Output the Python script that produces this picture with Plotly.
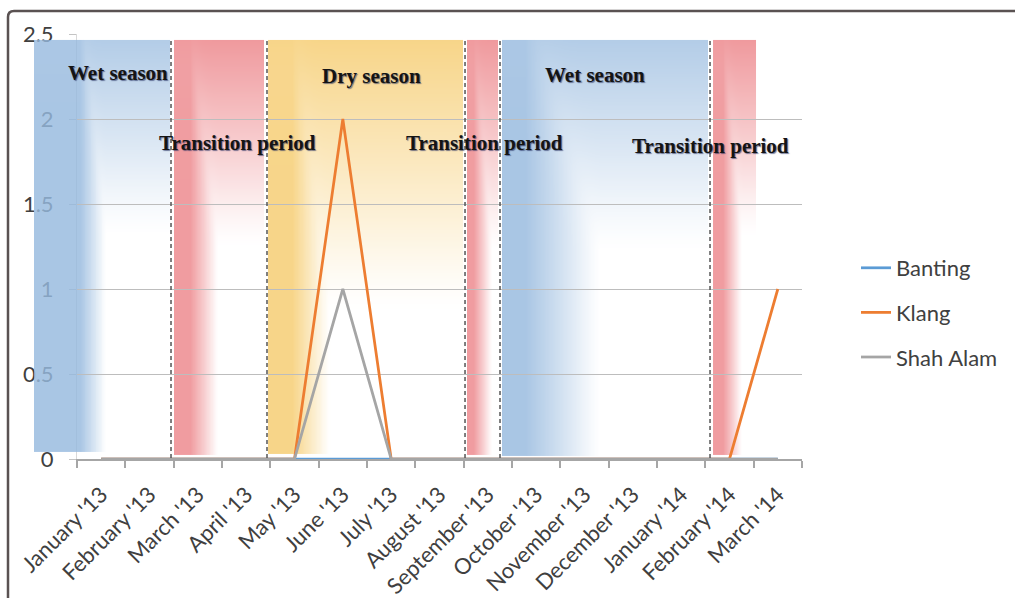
import numpy as np
import plotly.graph_objects as go

# ---- data -------------------------------------------------------------
months = ["January '13", "February '13", "March '13", "April '13", "May '13",
          "June '13", "July '13", "August '13", "September '13", "October '13",
          "November '13", "December '13", "January '14", "February '14", "March '14"]
banting = [0, 0, 0, 0, 0, 0, 0, 0, 0, 0, 0, 0, 0, 0, 0]
klang = [0, 0, 0, 0, 0, 2, 0, 0, 0, 0, 0, 0, 0, 0, 1]
shah_alam = [0, 0, 0, 0, 0, 1, 0, 0, 0, 0, 0, 0, 0, 0, 0]

series_names = ["Banting", "Klang", "Shah Alam"]
series_colors = ["#5b9bd5", "#ed7d31", "#a5a5a5"]

# ---- figure geometry ---------------------------------------------------
W, H = 1015, 598
ML, MR, MT, MB = 20, 213, 34, 139
PW, PH = W - ML - MR, H - MT - MB
AXIS_LEFT = 77          # pixel column of the value axis
YMAX = 2.5


def px_x(px):
    """pixel column -> paper x"""
    return (px - ML) / PW


def px_y(py):
    """pixel row -> paper y"""
    return (H - MB - py) / PH


DOM = [px_x(AXIS_LEFT), 1.0]

# ---- season bands (month-index units on x, value units on y) ----------
# x0, x1, y_bottom, y_top, rgb, solid_end, fade_end, v_zero, a_side, a_top
BLUE = (150, 185, 222)
RED = (235, 125, 130)
YELLOW = (245, 200, 100)
bands = [
    (-1.39, 1.424, 0.041, 2.465, BLUE, -0.44, 0.10, 1.32, 0.82, 0.72),
    (1.507, 3.369, 0.024, 2.465, RED, 1.84, 2.42, 1.26, 0.76, 0.78),
    (3.452, 7.486, 0.030, 2.465, YELLOW, 3.95, 4.73, 0.88, 0.76, 0.76),
    (7.569, 8.210, 0.024, 2.465, RED, 7.71, 8.09, 1.23, 0.76, 0.78),
    (8.293, 12.555, 0.018, 2.465, BLUE, 8.77, 10.32, 1.23, 0.82, 0.72),
    (12.659, 13.548, 0.024, 2.465, RED, 12.87, 13.26, 1.32, 0.76, 0.78),
]
dividers = [1.445, 3.431, 7.528, 8.252, 12.597]

labels = [
    ("Wet season", 0.348, 2.271),
    ("Transition period", 2.821, 1.859),
    ("Dry season", 5.583, 2.253),
    ("Transition period", 7.921, 1.859),
    ("Wet season", 10.217, 2.259),
    ("Transition period", 12.617, 1.841),
]


def band_alpha(X, Y, band):
    """top-down fade blended with a left-edge fade (smooth maximum)"""
    x0, x1, yb, yt, rgb, s_end, f_end, v0, a_side, a_top = band
    a_v = a_top * np.clip((Y - v0) / (yt - v0), 0, 1)
    a_h = a_side * np.clip((f_end - X) / (f_end - s_end), 0, 1)
    k = 12.0
    wv, wh = np.exp(k * a_v), np.exp(k * a_h)
    return (a_v * wv + a_h * wh) / (wv + wh)


def scale_for(rgb):
    r, g, b = rgb
    return [[0, f"rgba({r},{g},{b},0)"], [1, f"rgba({r},{g},{b},1)"]]


fig = go.Figure()

# gradient fills for the season bands, drawn on the hidden linear axes
for band in bands:
    x0, x1, yb, yt, rgb = band[:5]
    nx, ny = 160, 160
    xs = x0 + (np.arange(nx) + 0.5) * (x1 - x0) / nx
    ys = yb + (np.arange(ny) + 0.5) * (yt - yb) / ny
    X, Y = np.meshgrid(xs, ys)
    fig.add_trace(go.Heatmap(
        x=xs, y=ys, z=band_alpha(X, Y, band), zmin=0, zmax=1, zsmooth="best",
        colorscale=scale_for(rgb), showscale=False, hoverinfo="skip",
        showlegend=False, xaxis="x", yaxis="y",
    ))

# data lines on the visible category axis (own subplot, so its grid sits above the bands)
for name, vals, col in zip(series_names, [banting, klang, shah_alam], series_colors):
    fig.add_trace(go.Scatter(
        x=months, y=vals, name=name, mode="lines",
        line=dict(color=col, width=2.75),
        xaxis="x2", yaxis="y2", legendgroup=name,
    ))

# the first wet-season band reaches left past the value axis, over its labels
b0 = bands[0]
edges_y = np.linspace(b0[2], b0[3], 121)
mid_y = 0.5 * (edges_y[:-1] + edges_y[1:])
strip = band_alpha(np.full((mid_y.size, 1), b0[0]), mid_y[:, None], b0)
fig.add_trace(go.Heatmap(
    x=[0, 1], y=edges_y, z=strip, zmin=0, zmax=1,
    colorscale=scale_for(b0[4]), showscale=False, hoverinfo="skip",
    showlegend=False, xaxis="x3", yaxis="y3",
))

shapes = []
for xv in dividers:
    shapes.append(dict(
        type="line", xref="x", yref="y", x0=xv, x1=xv, y0=0.006, y1=2.476,
        line=dict(color="#555555", width=1.5, dash="4px,3px"), layer="above",
    ))
# outer frame
frame = (f"M {px_x(8)},{px_y(600)} L {px_x(8)},{px_y(17)} "
         f"Q {px_x(8)},{px_y(11)} {px_x(14)},{px_y(11)} L {px_x(1017)},{px_y(11)}")
shapes.append(dict(type="path", xref="paper", yref="paper", path=frame,
                   line=dict(color="#5a5252", width=2.5), layer="above"))

annotations = [
    dict(text=t, x=x, y=y, xref="x", yref="y", showarrow=False,
         xanchor="center", yanchor="middle",
         font=dict(family="Liberation Serif", size=21, weight="bold", color="#141414",
                   shadow="1px 1px 1px rgba(30,40,90,0.6)"))
    for t, x, y in labels
]

fig.update_layout(
    width=W, height=H,
    margin=dict(l=ML, r=MR, t=MT, b=MB, pad=0, autoexpand=False),
    paper_bgcolor="white", plot_bgcolor="rgba(0,0,0,0)",
    showlegend=True,
    legend=dict(
        x=px_x(856), y=px_y(247), xanchor="left", yanchor="top",
        font=dict(family="Lato", size=22, color="#404040"),
        bgcolor="rgba(0,0,0,0)", traceorder="grouped", tracegroupgap=13,
    ),
    xaxis=dict(domain=DOM, range=[-0.5, 14.5], anchor="y",
               visible=False, fixedrange=True),
    yaxis=dict(domain=[0, 1], range=[0, YMAX], anchor="x",
               visible=False, fixedrange=True),
    xaxis2=dict(
        domain=DOM, anchor="y2", side="bottom", type="category",
        range=[-0.5, 14.5], tickson="boundaries", ticks="outside", ticklen=7,
        tickwidth=1.5, tickcolor="#a6a6a6", showline=True, linecolor="#a6a6a6",
        linewidth=2, showgrid=False, zeroline=False, tickangle=-45,
        tickfont=dict(family="Lato", size=22, color="#404040"),
        ticklabelstandoff=12, fixedrange=True, automargin=False,
    ),
    yaxis2=dict(
        domain=[0, 1], anchor="x2", side="left", range=[0, YMAX],
        tick0=0, dtick=0.5, showgrid=True, gridcolor="#bdbdbd", gridwidth=1,
        ticks="outside", ticklen=7, tickcolor="#c4c4c4", showline=True,
        linecolor="#d9d9d9", linewidth=1, zeroline=False,
        tickfont=dict(family="Lato", size=22, color="#404040"),
        ticklabelstandoff=11, fixedrange=True, automargin=False,
    ),
    xaxis3=dict(domain=[px_x(34), px_x(AXIS_LEFT)], range=[0, 1], anchor="y3",
                visible=False, fixedrange=True),
    yaxis3=dict(domain=[0, 1], range=[0, YMAX], anchor="x3",
                visible=False, fixedrange=True),
    shapes=shapes,
    annotations=annotations,
)

fig.write_html("out.html")
